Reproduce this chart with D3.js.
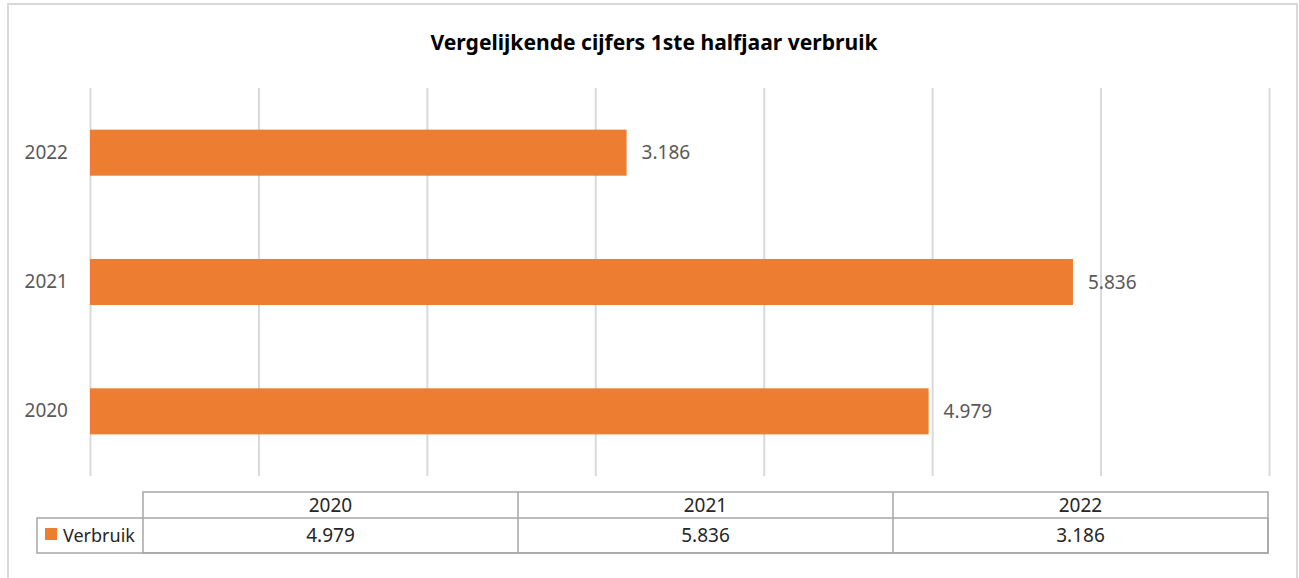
<!DOCTYPE html>
<html>
<head>
<meta charset="utf-8">
<script src="https://cdn.jsdelivr.net/npm/d3@7"></script>
<style>
  html, body { margin: 0; padding: 0; background: #fff; }
  svg { display: block; font-family: "Noto Sans", "Open Sans", sans-serif; }
</style>
</head>
<body>
<svg id="chart"></svg>
<script>
// data
const title = "Vergelijkende cijfers 1ste halfjaar verbruik";
const seriesName = "Verbruik";
const categories = ["2020", "2021", "2022"];
const values = [4979, 5836, 3186];
const xTicks = [0, 1000, 2000, 3000, 4000, 5000, 6000, 7000];

const width = 1299;
const height = 578;
const orange = "#ED7D31";
const fmt = v => d3.format(",")(v).replace(/,/g, ".");

const data = categories.map((c, i) => ({ name: c, value: values[i] }));

const svg = d3.select("#chart")
  .attr("width", width)
  .attr("height", height);

// outer frame (bottom runs off the page)
svg.append("rect")
  .attr("x", 8)
  .attr("y", 4)
  .attr("width", 1289)
  .attr("height", 640)
  .attr("fill", "#fff")
  .attr("stroke", "#d9d9d9")
  .attr("stroke-width", 2);

svg.append("text")
  .attr("x", 654)
  .attr("y", 50)
  .attr("text-anchor", "middle")
  .attr("font-size", 21)
  .attr("font-weight", "bold")
  .attr("fill", "#000")
  .attr("textLength", 447)
  .attr("lengthAdjust", "spacingAndGlyphs")
  .text(title);

// scales
const x = d3.scaleLinear()
  .domain([0, 7000])
  .range([90, 1269]);

const y = d3.scaleBand()
  .domain(categories.slice().reverse())
  .range([88, 476])
  .paddingInner(0.644)
  .paddingOuter(0.322);

// gridlines
const grid = svg.append("g")
  .attr("transform", "translate(0,88)")
  .call(d3.axisBottom(x).tickValues(xTicks).tickSize(388).tickFormat(""));
grid.select(".domain").remove();
grid.selectAll(".tick line")
  .attr("stroke", "#d9d9d9")
  .attr("stroke-width", 2);

// category axis
const yAxisG = svg.append("g")
  .attr("transform", "translate(90,0)")
  .call(d3.axisLeft(y).tickSize(0).tickPadding(22));
yAxisG.select(".domain").remove();
yAxisG.selectAll("text")
  .attr("font-size", 19)
  .attr("font-family", "Noto Sans, sans-serif")
  .attr("fill", "#595959");

// bars
svg.selectAll(".bar")
  .data(data)
  .enter()
  .append("rect")
  .attr("class", "bar")
  .attr("x", x(0))
  .attr("y", d => y(d.name))
  .attr("width", d => x(d.value) - x(0))
  .attr("height", y.bandwidth())
  .attr("fill", orange);

// data labels
svg.selectAll(".lbl")
  .data(data)
  .enter()
  .append("text")
  .attr("class", "lbl")
  .attr("x", d => x(d.value) + 15)
  .attr("y", d => y(d.name) + y.bandwidth() / 2)
  .attr("dy", "0.35em")
  .attr("font-size", 19)
  .attr("fill", "#595959")
  .text(d => fmt(d.value));

// data table under the chart
const col = d3.scaleBand()
  .domain(categories)
  .range([143, 1268]);

const tableTop = 492, rowMid = 518, tableBottom = 553;
const tbl = svg.append("g")
  .attr("fill", "none")
  .attr("stroke", "#a6a6a6")
  .attr("stroke-width", 1.5);

tbl.append("rect")
  .attr("x", col.range()[0])
  .attr("y", tableTop)
  .attr("width", col.range()[1] - col.range()[0])
  .attr("height", tableBottom - tableTop);
tbl.append("rect")
  .attr("x", 37)
  .attr("y", rowMid)
  .attr("width", col.range()[1] - 37)
  .attr("height", tableBottom - rowMid);
tbl.selectAll(".div")
  .data(categories.slice(1))
  .enter()
  .append("line")
  .attr("x1", d => col(d))
  .attr("x2", d => col(d))
  .attr("y1", tableTop)
  .attr("y2", tableBottom);

svg.selectAll(".hdr")
  .data(categories)
  .enter()
  .append("text")
  .attr("x", d => col(d) + col.bandwidth() / 2)
  .attr("y", (tableTop + rowMid) / 2)
  .attr("dy", "0.35em")
  .attr("text-anchor", "middle")
  .attr("font-size", 19)
  .attr("fill", "#262626")
  .text(d => d);

svg.selectAll(".cell")
  .data(data)
  .enter()
  .append("text")
  .attr("x", d => col(d.name) + col.bandwidth() / 2)
  .attr("y", (rowMid + tableBottom) / 2)
  .attr("dy", "0.35em")
  .attr("text-anchor", "middle")
  .attr("font-size", 19)
  .attr("fill", "#262626")
  .text(d => fmt(d.value));

// legend key in the table
svg.append("rect")
  .attr("x", 45)
  .attr("y", 528)
  .attr("width", 12)
  .attr("height", 12)
  .attr("fill", orange);
svg.append("text")
  .attr("x", 63)
  .attr("y", (rowMid + tableBottom) / 2)
  .attr("dy", "0.35em")
  .attr("font-size", 18)
  .attr("fill", "#262626")
  .text(seriesName);
</script>
</body>
</html>
